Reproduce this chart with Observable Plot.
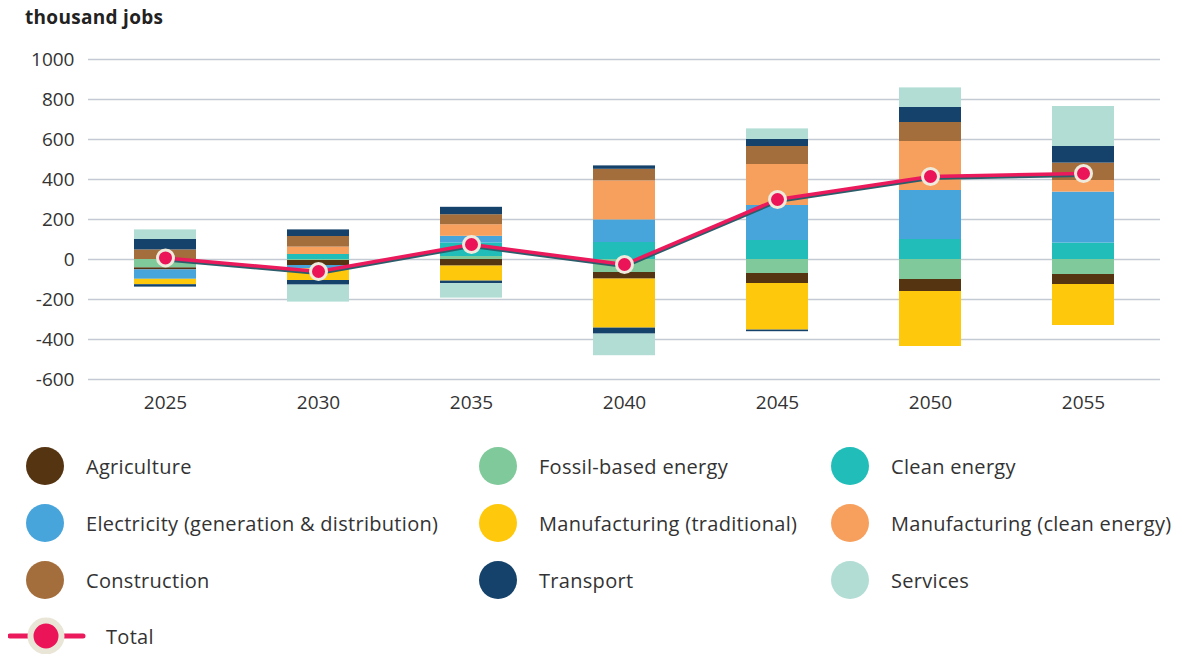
<!DOCTYPE html>
<html>
<head>
<meta charset="utf-8">
<script src="https://cdn.jsdelivr.net/npm/d3@7"></script>
<script src="https://cdn.jsdelivr.net/npm/@observablehq/plot@0.6"></script>
<style>
  html, body { margin: 0; padding: 0; background: #fff; overflow: hidden; }
  body { width: 1185px; height: 654px; position: relative; font-family: "Open Sans", Lato, sans-serif; color: #333; }
  #title { height: 36px; box-sizing: border-box; padding: 5px 0 0 25px; font-weight: 700; font-size: 19px; letter-spacing: 0.3px; color: #222; line-height: 24px; }
  #chart svg { display: block; }
  #legend { position: absolute; left: 0; top: 0; width: 1185px; height: 654px; pointer-events: none; }
  .item { position: absolute; display: flex; align-items: center; font-size: 20px; letter-spacing: 0.3px; color: #333; height: 40px; white-space: nowrap; }
  .sw { width: 38px; height: 38px; border-radius: 50%; margin-right: 22px; flex: none; }
</style>
</head>
<body>
<div id="title">thousand jobs</div>
<div id="chart"></div>
<div id="legend"></div>
<script>
const years = ["2025", "2030", "2035", "2040", "2045", "2050", "2055"];
const sectors = ["Agriculture", "Fossil-based energy", "Clean energy",
  "Electricity (generation & distribution)", "Manufacturing (traditional)", "Manufacturing (clean energy)",
  "Construction", "Transport", "Services"];
const colors = ["#553412", "#80c99b", "#20bdb9", "#48a5db", "#fec80c", "#f7a05e", "#a46e3c", "#15426a", "#b2ddd4"];

// values in thousand jobs, per year
const fossil        = [-42,  -5,  15,  -65,  -70, -100,  -75];
const agriculture   = [-10, -25, -33,  -33,  -50,  -60,  -50];
const cleanEnergy   = [  0,  25,  68,   85,   95,  100,   82];
const electricity   = [-47, -17,  33,  113,  175,  245,  255];
const mfgTrad       = [-27, -58, -75, -245, -233, -275, -205];
const mfgClean      = [  0,  37,  58,  195,  205,  245,   58];
const construction  = [ 48,  53,  50,   58,   90,   95,   87];
const transportGain = [ 52,  33,  37,   17,   35,   75,   83];
const transportLoss = [-12, -23, -13,  -30,   -8,    0,    0];
const services      = [ 48, -85, -72, -108,   53,   98,  200];
const total         = [  8, -60,  75,  -25,  300,  415,  430];
const yTicks = [-600, -400, -200, 0, 200, 400, 600, 800, 1000];

// stacking order (from zero outward)
const seriesList = [
  ["Fossil-based energy", "fossil", fossil],
  ["Agriculture", "agriculture", agriculture],
  ["Clean energy", "clean", cleanEnergy],
  ["Electricity (generation & distribution)", "electricity", electricity],
  ["Manufacturing (traditional)", "mfgTrad", mfgTrad],
  ["Manufacturing (clean energy)", "mfgClean", mfgClean],
  ["Construction", "construction", construction],
  ["Transport", "transportGain", transportGain],
  ["Transport", "transportLoss", transportLoss],
  ["Services", "services", services]
];
const rows = [];
years.forEach((yr, i) => {
  seriesList.forEach(([sector, key, arr]) => rows.push({year: yr, sector, key, value: arr[i]}));
});
const totals = years.map((yr, i) => ({year: yr, value: total[i]}));

const chart = Plot.plot({
  width: 1185,
  height: 385,
  marginTop: 23,
  marginBottom: 42,
  marginLeft: 88,
  marginRight: 25,
  style: {fontFamily: "'Open Sans', Lato, sans-serif", fontSize: "19px", color: "#333", background: "#fff"},
  x: {domain: years, paddingInner: 0.595, paddingOuter: 0.2975, label: null},
  y: {domain: [-600, 1000], label: null},
  color: {domain: sectors, range: colors},
  marks: [
    Plot.ruleY(yTicks, {stroke: "#c3cad4", strokeWidth: 1.6}),
    Plot.barY(rows, {x: "year", y: "value", fill: "sector", z: "key", order: null}),
    Plot.line(totals, {x: "year", y: "value", stroke: "#2c5d6b", strokeWidth: 3.5, dy: 1.8, curve: "linear"}),
    Plot.line(totals, {x: "year", y: "value", stroke: "#ea1a5c", strokeWidth: 3.5, curve: "linear"}),
    Plot.dot(totals, {x: "year", y: "value", r: 8, fill: "#ec1458", stroke: "#eeebdd", strokeWidth: 3}),
    Plot.axisY(yTicks, {tickSize: 0, tickPadding: 14, fontSize: 19, fill: "#333", tickFormat: d => String(d)}),
    Plot.axisX({tickSize: 0, tickPadding: 16, fontSize: 19, fill: "#333"})
  ]
});
document.getElementById("chart").appendChild(chart);

// legend
const legend = document.getElementById("legend");
const colX = [26, 479, 831];
const rowY = [466, 523, 580];
const legendOrder = [
  ["Agriculture", "Fossil-based energy", "Clean energy"],
  ["Electricity (generation & distribution)", "Manufacturing (traditional)", "Manufacturing (clean energy)"],
  ["Construction", "Transport", "Services"]
];
legendOrder.forEach((row, r) => row.forEach((name, c) => {
  const el = document.createElement("div");
  el.className = "item";
  el.style.left = colX[c] + "px";
  el.style.top = (rowY[r] - 20) + "px";
  const sw = document.createElement("span");
  sw.className = "sw";
  sw.style.background = colors[sectors.indexOf(name)];
  el.appendChild(sw);
  el.appendChild(document.createTextNode(name));
  legend.appendChild(el);
}));
// total legend item
const tot = document.createElement("div");
tot.className = "item";
tot.style.left = "8px";
tot.style.top = (636 - 20) + "px";
tot.innerHTML = '<svg width="98" height="40"><line x1="2" y1="20" x2="75" y2="20" stroke="#ea1a5c" stroke-width="5" stroke-linecap="round"/><circle cx="38" cy="20" r="15.5" fill="#ec1458" stroke="#e9e6d8" stroke-width="6"/></svg>';
tot.appendChild(document.createTextNode("Total"));
legend.appendChild(tot);
</script>
</body>
</html>
